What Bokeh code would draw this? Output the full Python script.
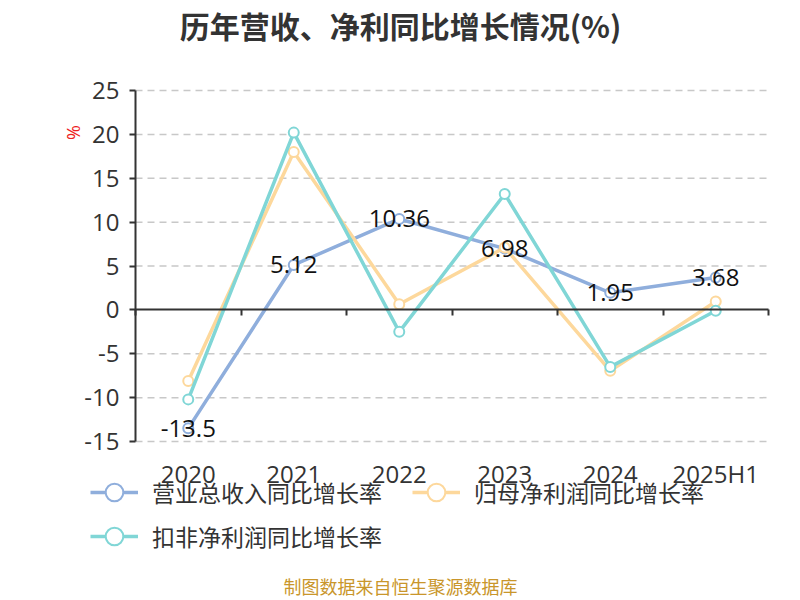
import math
from bokeh.plotting import figure
from bokeh.models import (Range1d, FixedTicker, LinearAxis, Label, Legend, LegendItem,
                          ColumnDataSource)
from bokeh.embed import file_html
from bokeh.resources import INLINE

categories = ["2020", "2021", "2022", "2023", "2024", "2025H1"]
revenue_growth = [-13.5, 5.12, 10.36, 6.98, 1.95, 3.68]
parent_profit_growth = [-8.1, 18.0, 0.65, 7.1, -6.95, 0.95]
deducted_profit_growth = [-10.2, 20.2, -2.5, 13.2, -6.5, -0.1]
y_ticks = [-15, -10, -5, 0, 5, 10, 15, 20, 25]

series_names = ["营业总收入同比增长率", "归母净利润同比增长率", "扣非净利润同比增长率"]
colors = ["#8FAEDC", "#FDD89C", "#80D6D6"]

CJK = "Noto Sans CJK SC"
NUM = "Open Sans"

n = len(categories)
xs = [i + 0.5 for i in range(n)]
ymin, ymax = y_ticks[0], y_ticks[-1]

W, H = 800, 600
FL, FT, FR, FB = 135, 90, 768, 441  # plot-area edges in page pixels

# make the frame cover the whole canvas; the plot area is a sub-region of the ranges
xpx = (FR - FL) / n
ypx = (FB - FT) / (ymax - ymin)
x_range = Range1d(-FL / xpx, n + (W - FR) / xpx)
y_range = Range1d(ymin - (H - FB) / ypx, ymax + FT / ypx)

p = figure(width=W, height=H, output_backend="svg", toolbar_location=None,
           x_range=x_range, y_range=y_range, min_border=0,
           x_axis_type=None, y_axis_type=None)
p.outline_line_color = None
p.background_fill_color = "white"
p.border_fill_color = "white"
p.xgrid.visible = False
p.ygrid.visible = False

# dashed horizontal grid lines over the plot area
grid_y = [t for t in y_ticks if t != 0]
p.segment(x0=[0] * len(grid_y), x1=[n] * len(grid_y), y0=grid_y, y1=grid_y,
          line_color="#c8c8c8", line_width=1.5, line_dash="7 5")

# y axis
yax = LinearAxis(ticker=FixedTicker(ticks=y_ticks), fixed_location=0, bounds=(ymin, ymax),
                 major_label_overrides={t: str(t) for t in y_ticks})
yax.axis_line_color = "#333333"
yax.axis_line_width = 2
yax.major_tick_line_color = "#333333"
yax.major_tick_line_width = 2
yax.major_tick_out = 6
yax.major_tick_in = 0
yax.minor_tick_line_color = None
yax.major_label_text_font = NUM
yax.major_label_text_font_size = "24px"
yax.major_label_text_color = "#333333"
yax.major_label_standoff = 10
p.add_layout(yax, "left")

# x axis labels at the bottom of the plot area
xax = LinearAxis(ticker=FixedTicker(ticks=xs), fixed_location=ymin, bounds=(0, n),
                 major_label_overrides={x: c for x, c in zip(xs, categories)})
xax.axis_line_color = None
xax.major_tick_line_color = None
xax.minor_tick_line_color = None
xax.major_label_text_font = NUM
xax.major_label_text_font_size = "24px"
xax.major_label_text_color = "#333333"
xax.major_label_standoff = 9
p.add_layout(xax, "below")

# x axis line at zero with boundary ticks
zax = LinearAxis(ticker=FixedTicker(ticks=list(range(n + 1))), fixed_location=0,
                 bounds=(0, n))
zax.axis_line_color = "#333333"
zax.axis_line_width = 2
zax.major_tick_line_color = "#333333"
zax.major_tick_line_width = 2
zax.major_tick_out = 6
zax.major_tick_in = 0
zax.minor_tick_line_color = None
zax.major_label_text_alpha = 0
zax.major_label_text_font_size = "1px"
p.add_layout(zax, "below")

renderers = []
for vals, col in zip([revenue_growth, parent_profit_growth, deducted_profit_growth], colors):
    src = ColumnDataSource(dict(x=xs, y=vals))
    l = p.line("x", "y", source=src, line_color=col, line_width=3.5)
    s = p.scatter("x", "y", source=src, size=10, marker="circle", fill_color="white",
                  line_color=col, line_width=2)
    renderers.append((l, s))

# data labels for revenue
lab_src = ColumnDataSource(dict(x=xs, y=revenue_growth,
                                t=[("%g" % v) for v in revenue_growth]))
p.text("x", "y", text="t", source=lab_src, text_align="center", text_baseline="middle",
       text_font_size="24px", text_color="#111111", text_font={"value": NUM})

items = [LegendItem(label=nm, renderers=list(r)) for nm, r in zip(series_names, renderers)]
legend = Legend(items=items, orientation="horizontal", ncols=2,
                location=(90, H - 558),
                glyph_width=48, glyph_height=44, label_standoff=14, spacing=0,
                label_width=260,
                padding=0, margin=0, border_line_color=None, background_fill_alpha=0,
                label_text_font=CJK, label_text_font_size="23px", label_text_color="#333333")
p.add_layout(legend, "center")


def lab(px, py, **kw):
    # canvas screen coordinates (origin bottom-left, y up)
    return Label(x=px, y=H - py, x_units="screen", y_units="screen", **kw)


p.add_layout(lab(400, 24, text="历年营收、净利同比增长情况(%)", text_align="center",
                 text_baseline="middle", text_font=CJK, text_font_size="30px",
                 text_font_style="bold", text_color="#333333"))
p.add_layout(lab(72, 132, text="%", angle=math.pi / 2, text_align="center",
                 text_baseline="middle", text_font=NUM, text_font_size="18px",
                 text_color="#ee2222"))
p.add_layout(lab(400, 585, text="制图数据来自恒生聚源数据库", text_align="center",
                 text_baseline="middle", text_font=CJK, text_font_size="18px",
                 text_color="#C9962B"))

open("out.html", "w").write(file_html(p, INLINE))
